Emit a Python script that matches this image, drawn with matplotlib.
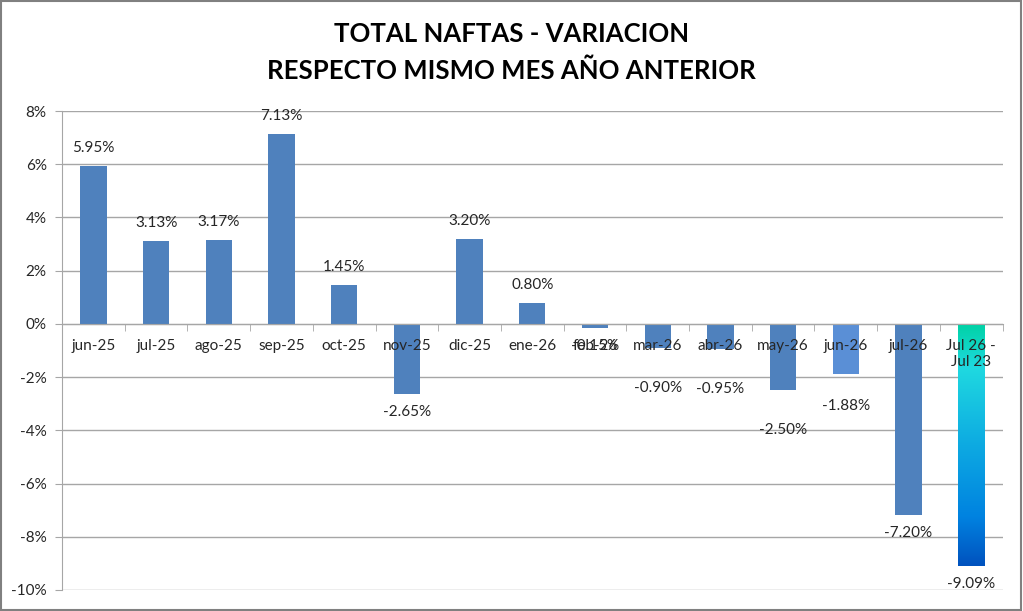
import numpy as np
import matplotlib.pyplot as plt
from matplotlib.colors import LinearSegmentedColormap
from matplotlib.patches import Rectangle
from matplotlib.ticker import FuncFormatter

# ----------------------------
# Data
# ----------------------------
categories = ["jun-25", "jul-25", "ago-25", "sep-25", "oct-25", "nov-25", "dic-25",
              "ene-26", "feb-26", "mar-26", "abr-26", "may-26", "jun-26", "jul-26",
              "Jul 26 -\nJul 23"]
variation = [5.95, 3.13, 3.17, 7.13, 1.45, -2.65, 3.20,
             0.80, -0.15, -0.90, -0.95, -2.50, -1.88, -7.20, -9.09]

# labels that were dragged further down in the original sheet (extra pixels)
label_shift = {"mar-26": 22, "abr-26": 22, "may-26": 22, "jun-26": 14}

BAR_COLOR = "#4F81BD"
HIGHLIGHT_COLOR = "#5A8FD6"
GRID_COLOR = "#A6A6A6"

plt.rcParams['font.family'] = ['Lato', 'DejaVu Sans']

fig = plt.figure(figsize=(10.23, 6.11), dpi=100)
ax = fig.add_axes([0.0606, 0.0344, 0.9194, 0.7839])

x = np.arange(len(categories))
colors = [BAR_COLOR] * len(categories)
colors[-3] = HIGHLIGHT_COLOR
bars = ax.bar(x, variation, width=0.42, color=colors, zorder=3)

# gradient for the last bar
last = bars[-1]
last.set_facecolor("none")
cmap = LinearSegmentedColormap.from_list(
    "teal_blue", [(0.0, "#00D2A6"), (0.18, "#1FD9E0"), (0.5, "#0DAAE2"),
                  (0.8, "#0082E0"), (1.0, "#0052BE")])
grad = np.linspace(0, 1, 256).reshape(-1, 1)
bx = last.get_x()
img = ax.imshow(grad, cmap=cmap, aspect="auto", zorder=3,
                extent=[bx, bx + last.get_width(), variation[-1], 0],
                origin="upper")
img.set_clip_path(last)

# value labels
for xi, (cat, val) in enumerate(zip(categories, variation)):
    if val >= 0:
        off = 18
    else:
        off = -(18 + label_shift.get(cat, 0))
    ax.annotate(f"{val:.2f}%", (xi, val), xytext=(0, off), textcoords="offset pixels",
                ha="center", va="center", fontsize=11, color="#262626", zorder=5)

# axes
ax.set_xlim(-0.5, len(categories) - 0.5)
ax.set_ylim(-10, 8)
ax.set_yticks(np.arange(-10, 9, 2))
ax.yaxis.set_major_formatter(FuncFormatter(lambda v, p: f"{v:.0f}%"))
ax.grid(axis="y", color=GRID_COLOR, linewidth=1, zorder=0)

ax.spines["top"].set_visible(False)
ax.spines["right"].set_visible(False)
ax.spines["left"].set_color(GRID_COLOR)
ax.spines["bottom"].set_position(("data", 0))
ax.spines["bottom"].set_color(GRID_COLOR)
ax.spines["bottom"].set_zorder(4)

ax.set_xticks(x)
ax.set_xticklabels(categories)
ax.set_xticks(np.arange(len(categories) + 1) - 0.5, minor=True)
ax.tick_params(axis="x", which="major", length=0, pad=11, labelsize=11, labelcolor="#262626")
ax.tick_params(axis="x", which="minor", length=5, direction="out", color=GRID_COLOR)
ax.tick_params(axis="y", length=5, color=GRID_COLOR, labelsize=11, labelcolor="#262626", pad=6)
ax.xaxis.set_zorder(6)
ax.yaxis.set_zorder(0.5)

fig.text(0.5, 0.944, "TOTAL NAFTAS - VARIACION", ha="center", va="center",
         fontsize=18.5, fontweight="bold", color="black")
fig.text(0.5, 0.884, "RESPECTO MISMO MES AÑO ANTERIOR", ha="center", va="center",
         fontsize=18.5, fontweight="bold", color="black")

# outer chart border
fig.patches.append(Rectangle((0.001, 0.002), 0.997, 0.996, transform=fig.transFigure,
                             fill=False, edgecolor="#808080", linewidth=1.5))

fig.savefig("out.png", dpi=100)
